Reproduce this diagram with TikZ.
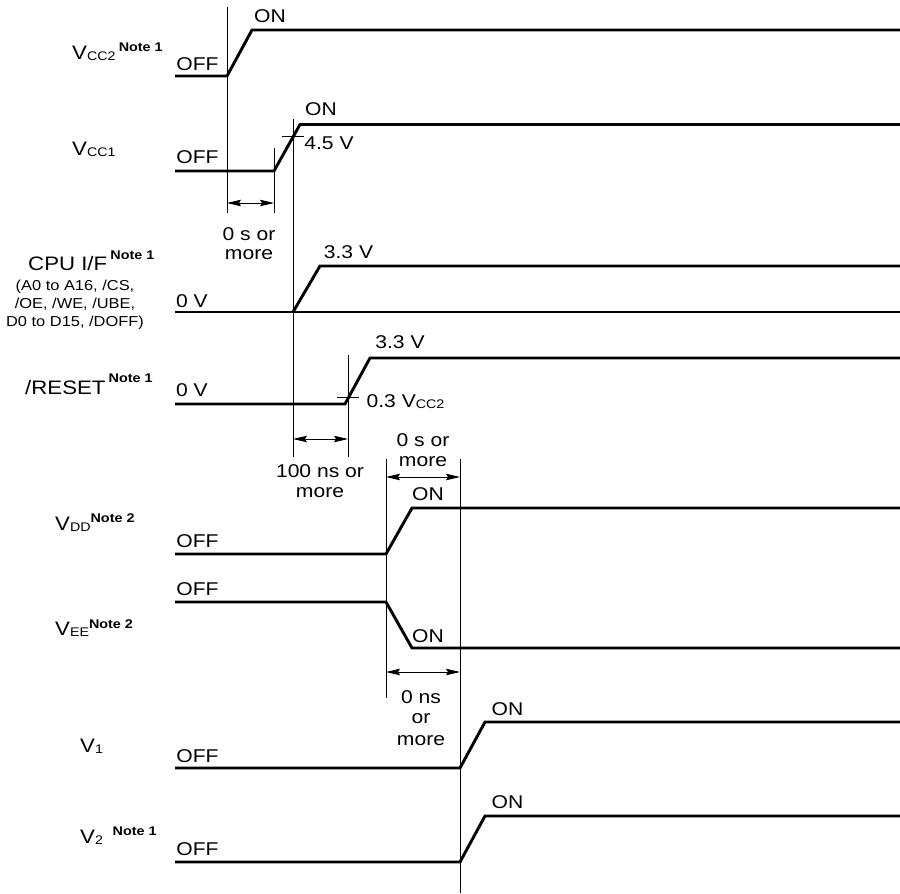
\documentclass[tikz,border=0pt]{standalone}
\usepackage{fontspec}
\setmainfont{Liberation Sans}[FakeStretch=1.14]
\usetikzlibrary{arrows.meta}

\tikzset{
  sig/.style={line width=2.9pt, line join=miter},
  guide/.style={line width=0.9pt},
  dim/.style={line width=0.9pt, {Stealth[length=14pt,width=6.5pt,inset=2pt]}-{Stealth[length=14pt,width=6.5pt,inset=2pt]}},
  lvl/.style={anchor=base, inner sep=0pt, font=\fontsize{18.5}{20}\selectfont},
  sname/.style={anchor=base west, inner sep=0pt, font=\fontsize{19.5}{22}\selectfont},
  pins/.style={anchor=base, inner sep=0pt, font=\fontsize{14.4}{16}\selectfont}
}
\newcommand\lowtxt[1]{\raisebox{-1pt}{\fontsize{12.5}{14}\selectfont #1}}
\newcommand\notemark[2][8pt]{\raisebox{#1}{\fontsize{12.6}{14}\selectfont\bfseries #2}}

\begin{document}
\begin{tikzpicture}[x=1pt,y=-1pt]
\useasboundingbox (0,0) rectangle (900,894);

% guide lines
\foreach \x/\a/\b in {227/7/213, 274/148/213, 293/119/457, 348/355/457, 386/459/698, 460/459/893}
  \draw[guide] (\x,\a) -- (\x,\b);

% signals
\draw[sig] (175,76) -- (227,76) -- (252,30) -- (900,30);          % VCC2
\draw[sig] (175,171) -- (274,171) -- (300,124.5) -- (900,124.5);  % VCC1
\draw[sig] (175,312) -- (900,312);                                % CPU I/F
\draw[sig] (293,312) -- (320,266) -- (900,266);
\draw[sig] (175,404) -- (345,404) -- (370,358) -- (900,358);      % /RESET
\draw[sig] (175,554) -- (386,554) -- (412,508) -- (900,508);      % VDD
\draw[sig] (175,602) -- (386,602) -- (412,648) -- (900,648);      % VEE
\draw[sig] (175,768) -- (460,768) -- (485,722) -- (900,722);      % V1
\draw[sig] (175,862) -- (460,862) -- (485,816) -- (900,816);      % V2

% threshold ticks
\draw[guide] (282,136) -- (304,136);
\draw[guide] (337,397) -- (359,397);

% timing gaps
\draw[dim] (227,203) -- (274,203);
\draw[dim] (293,439) -- (348,439);
\draw[dim] (386,477) -- (460,477);
\draw[dim] (386,672) -- (460,672);

% signal names
\node[sname] (nvcc2) at (72,59) {V\lowtxt{CC2}\,\notemark{Note 1}};
\node[sname] (nvcc1) at (72,155) {V\lowtxt{CC1}};
\node[sname] (ncpu) at (28,270.5) {CPU I/F\,\notemark[11pt]{Note 1}};
\node[pins] (pina) at (75,290) {(A0 to A16, /CS,};
\node[pins] (pinb) at (75,308) {/OE, /WE, /UBE,};
\node[pins] (pinc) at (75,326) {D0 to D15, /DOFF)};
\node[sname] (nreset) at (25,394) {/RESET\,\notemark[12pt]{Note 1}};
\node[sname] (nvdd) at (55,530) {V\lowtxt{DD}\notemark{Note 2}};
\node[sname] (nvee) at (55,635) {V\lowtxt{EE}\notemark[7pt]{Note 2}};
\node[sname] (nv1) at (80,752) {V\lowtxt{1}};
\node[sname] (nv2) at (80,843) {V\lowtxt{2}\enspace\notemark{Note 1}};

% levels
\node[lvl] (vcc2on) at (270,22) {ON};
\node[lvl] (vcc2off) at (197.5,70) {OFF};
\node[lvl] (vcc1on) at (321,115) {ON};
\node[lvl] (vcc1th) at (329,149) {4.5 V};
\node[lvl] (vcc1off) at (197.5,163) {OFF};
\node[lvl] (cpuhi) at (348.5,258.5) {3.3 V};
\node[lvl] (cpulo) at (192,307) {0 V};
\node[lvl] (rsthi) at (400,348) {3.3 V};
\node[lvl] (rstlo) at (192,396) {0 V};
\node[lvl] (rstth) at (405.5,407) {0.3 V\lowtxt{CC2}};
\node[lvl] (vddon) at (428,500) {ON};
\node[lvl] (vddoff) at (197.5,547) {OFF};
\node[lvl] (veeoff) at (197.5,595) {OFF};
\node[lvl] (veeon) at (428,642) {ON};
\node[lvl] (vaon) at (507.5,715) {ON};
\node[lvl] (vaoff) at (197.5,762) {OFF};
\node[lvl] (vbon) at (507.5,808) {ON};
\node[lvl] (vboff) at (197.5,855) {OFF};

% gap texts
\node[lvl] (gapa1) at (249,240) {0 s or};
\node[lvl] (gapa2) at (249,259) {more};
\node[lvl] (gapb1) at (320,477) {100 ns or};
\node[lvl] (gapb2) at (320,497) {more};
\node[lvl] (gapc1) at (423,446) {0 s or};
\node[lvl] (gapc2) at (423,466) {more};
\node[lvl] (gapd1) at (421,703) {0 ns};
\node[lvl] (gapd2) at (421,723) {or};
\node[lvl] (gapd3) at (421,745) {more};
\end{tikzpicture}
\end{document}
